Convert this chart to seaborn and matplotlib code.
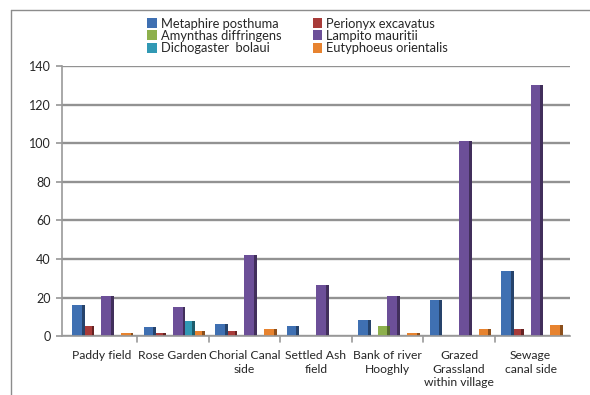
import matplotlib
matplotlib.use("Agg")
import matplotlib.pyplot as plt
from matplotlib.lines import Line2D
import seaborn as sns
import pandas as pd
import numpy as np

sites = ["Paddy field", "Rose Garden", "Chorial Canal\nside", "Settled Ash\nfield",
         "Bank of river\nHooghly", "Grazed\nGrassland\nwithin village", "Sewage\ncanal side"]

species = ["Metaphire posthuma", "Perionyx excavatus", "Amynthas diffringens",
           "Lampito mauritii", "Dichogaster  bolaui", "Eutyphoeus orientalis"]

metaphire = [16, 4.5, 6.5, 5.5, 8.5, 18.5, 34]
perionyx = [5, 1.5, 2.5, 0, 0, 0, 3.5]
amynthas = [0, 0, 0, 0, 5.5, 0, 0]
lampito = [21, 15, 42, 26.5, 21, 101, 130]
dichogaster = [0, 8, 0, 0, 0, 0, 0]
eutyphoeus = [1.5, 2.5, 3.5, 0, 1.5, 3.5, 6]

colors = ["#3F70B2", "#A83B39", "#8DB04C", "#6C4F98", "#3199B4", "#E7832F"]

series = [metaphire, perionyx, amynthas, lampito, dichogaster, eutyphoeus]
rows = []
for sp, vals in zip(species, series):
    for site, v in zip(sites, vals):
        rows.append({"site": site, "species": sp, "count": v})
df = pd.DataFrame(rows)

sns.set_theme(style="white")
plt.rcParams["font.family"] = ["Lato", "DejaVu Sans"]

fig = plt.figure(figsize=(5.9, 3.95), dpi=100)
ax = fig.add_axes([0.105, 0.149, 0.861, 0.684])

sns.barplot(data=df, x="site", y="count", hue="species", order=sites,
            hue_order=species, palette=colors, width=0.82, linewidth=0,
            saturation=1, ax=ax, legend=True)

# darker side face for a little depth on each bar
for patch in ax.patches:
    h = patch.get_height()
    if h > 0:
        c = np.array(matplotlib.colors.to_rgb(patch.get_facecolor())) * 0.6
        x0 = patch.get_x() + patch.get_width()
        ax.add_patch(matplotlib.patches.Rectangle((x0, 0), 0.04, h, color=c, lw=0, zorder=2))

ax.set_ylim(0, 140)
ax.set_xlim(-0.55, 6.55)
ax.set_yticks(np.arange(0, 141, 20))
ax.yaxis.grid(True, color="#929292", lw=1.7)
ax.set_axisbelow(True)
ax.set_xlabel("")
ax.set_ylabel("")
for s in ["top", "right"]:
    ax.spines[s].set_visible(False)
for s in ["left", "bottom"]:
    ax.spines[s].set_color("#9A9A9A")
    ax.spines[s].set_linewidth(1.2)

ax.set_xticks(range(len(sites)))
ax.set_xticklabels(sites, fontsize=8.7, linespacing=1.3)
ax.tick_params(axis="x", length=0, pad=10)
ax.tick_params(axis="y", length=4, color="#9A9A9A", labelsize=9, left=True, pad=4)
for b in np.arange(0.5, 6.5, 1.0):
    ax.plot([b, b], [0, -3], color="#9A9A9A", lw=1.2, clip_on=False)

handles, labels = ax.get_legend_handles_labels()
ax.get_legend().remove()
order = [0, 2, 4, 1, 3, 5]
fig.legend([handles[i] for i in order], [labels[i] for i in order],
           loc="upper left", bbox_to_anchor=(0.23, 0.985), ncol=2,
           frameon=False, fontsize=9.3, handlelength=0.75, handleheight=0.8,
           handletextpad=0.3, labelspacing=0.02, columnspacing=2.4)

fig.add_artist(Line2D([0.018, 0.018], [0, 0.975], transform=fig.transFigure, color="#8C8C8C", lw=1))
fig.add_artist(Line2D([0.018, 1.0], [0.975, 0.975], transform=fig.transFigure, color="#8C8C8C", lw=1))

fig.savefig("out.png", dpi=100)
